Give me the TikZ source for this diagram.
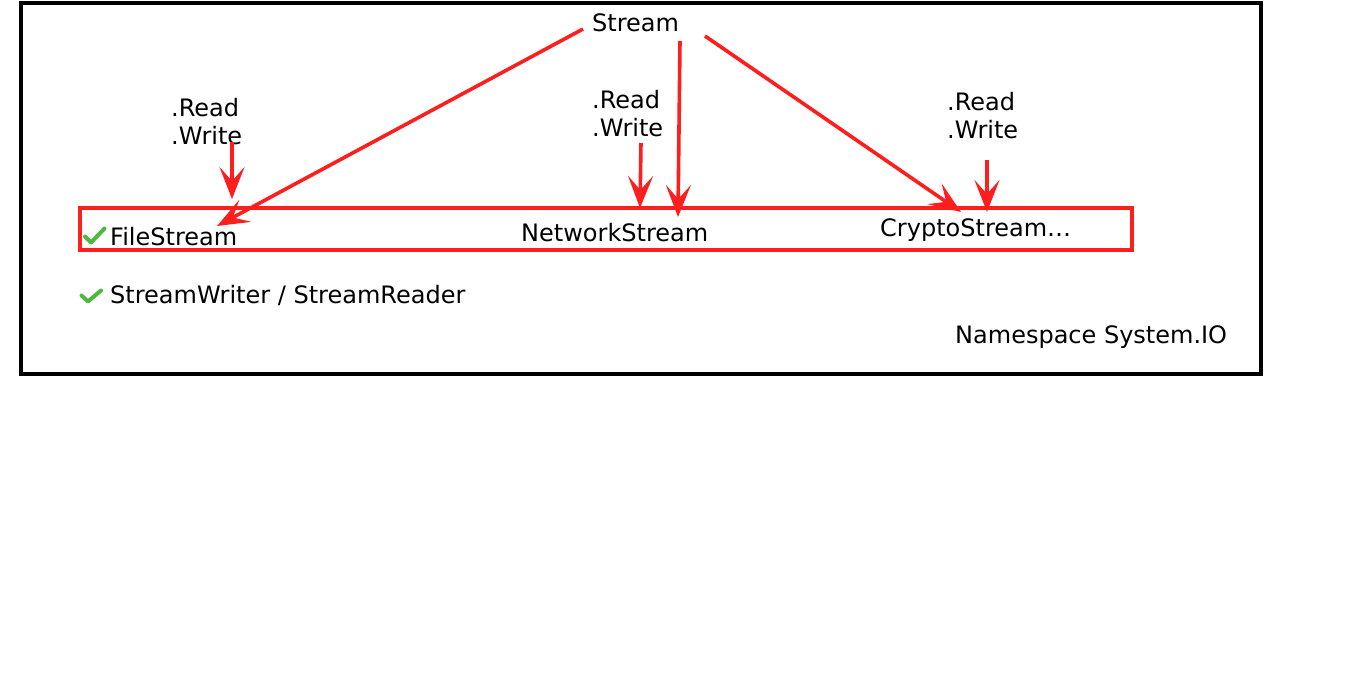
\documentclass[tikz,border=0pt]{standalone}
\usepackage{fontspec}
\setmainfont{DejaVu Sans}
\usetikzlibrary{arrows.meta}
\definecolor{arrred}{RGB}{255,30,30}
\definecolor{chk}{RGB}{76,186,60}
\begin{document}
\begin{tikzpicture}[x=1pt,y=-1pt,
  lbl/.style={inner sep=0pt, font=\fontsize{24}{28}\selectfont, anchor=base west},
  arr/.style={draw=arrred, line width=3.6pt, -{Stealth[length=32pt,width=25pt,inset=14pt]}},
  chkmark/.style={draw=chk, line width=4pt, line cap=round, line join=round},
  frame/.style={draw=black, line width=3.6pt},
  group/.style={draw=arrred, line width=3.6pt}]
\useasboundingbox (0,0) rectangle (1366,697);
% frames
\draw[frame] (21,3) rectangle (1261,374);
\draw[group] (80,208) rectangle (1132,250);
% labels
\node[lbl] (stream) at (592,31.5) {Stream};
\node[lbl] (readA) at (171,116) {.Read};
\node[lbl] (writeA) at (171,144) {.Write};
\node[lbl] (readB) at (592,108) {.Read};
\node[lbl] (writeB) at (592,136) {.Write};
\node[lbl] (readC) at (947,110) {.Read};
\node[lbl] (writeC) at (947,138) {.Write};
\node[lbl] (file) at (110,245.5) {FileStream};
\node[lbl] (net) at (521,241.5) {NetworkStream};
\node[lbl] (crypto) at (880,236.5) {CryptoStream\ldots};
\node[lbl] (swsr) at (110,303.5) {StreamWriter / StreamReader};
\node[lbl] (ns) at (955,343) {Namespace System.IO};
% connector endpoints
\coordinate (sL) at (583,29);
\coordinate (sM) at (680,41);
\coordinate (sR) at (705,36);
\coordinate (fileEnd) at (217,226);
\coordinate (netEnd) at (678,217);
\coordinate (cryEnd) at (961,212);
\coordinate (rwA) at (232,142);
\coordinate (rwAEnd) at (232,199);
\coordinate (rwB) at (641,143);
\coordinate (rwBEnd) at (640,208);
\coordinate (rwC) at (987,160);
\coordinate (rwCEnd) at (987,212);
% arrows
\draw[arr] (sL) -- (fileEnd);
\draw[arr] (sM) -- (netEnd);
\draw[arr] (sR) -- (cryEnd);
\draw[arr] (rwA) -- (rwAEnd);
\draw[arr] (rwB) -- (rwBEnd);
\draw[arr] (rwC) -- (rwCEnd);
% check marks
\draw[chkmark] (85,236.5) -- (91,242.5) -- (104.5,228.5);
\draw[chkmark] (81.5,295.5) -- (88,301.5) -- (101,290.5);
\end{tikzpicture}
\end{document}
